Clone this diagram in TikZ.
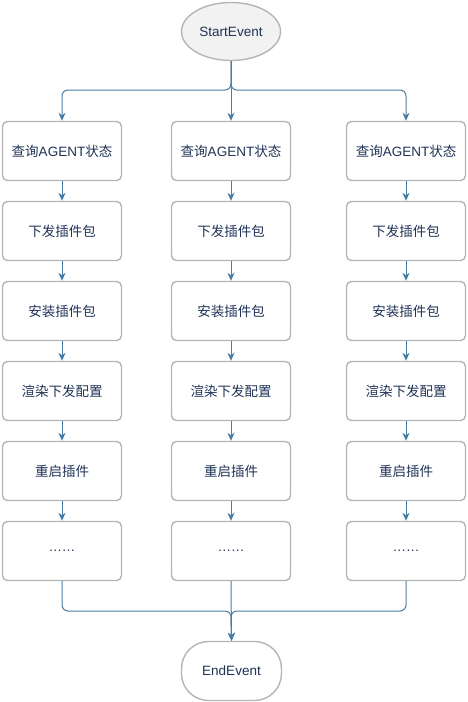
\documentclass[tikz,border=0pt]{standalone}
\usepackage{fontspec}
\setmainfont{Liberation Sans}
\newfontfamily\cjk{Noto Sans CJK SC}
\usepackage{tikz}
\usetikzlibrary{arrows.meta,shapes.geometric}
\definecolor{flowblue}{HTML}{4A7DA3}
\definecolor{boxgray}{HTML}{B5B5B5}
\definecolor{textnavy}{HTML}{1F3356}
\definecolor{startfill}{HTML}{F2F2F2}
\tikzset{
	task/.style={draw=boxgray, line width=1.4pt, fill=white, rounded corners=5pt,
		minimum width=119pt, minimum height=59pt, inner sep=0pt, text=textnavy,
		font=\fontsize{13.5}{16}\selectfont},
	startev/.style={ellipse, draw=boxgray, line width=1.4pt, fill=startfill,
		minimum width=99pt, minimum height=58pt, inner sep=0pt, text=textnavy,
		font=\fontsize{13.5}{16}\selectfont},
	endev/.style={draw=boxgray, line width=1.4pt, fill=white, rounded corners=27pt,
		minimum width=100pt, minimum height=59pt, inner sep=0pt, text=textnavy,
		font=\fontsize{13.5}{16}\selectfont},
	flow/.style={draw=flowblue, line width=1pt, rounded corners=6pt,
		-{Stealth[length=8pt,width=7pt,inset=2.5pt]}}
}

\begin{document}
\begin{tikzpicture}[x=1pt, y=-1pt]
		%%%%% START %%%%%
		\useasboundingbox (0, 0) rectangle (467, 702);
		
		\node[startev] (start) at (231, 31.5) {StartEvent};
		\node[endev] (end) at (231.5, 671) {EndEvent};
		
		% left column
		\node[task] (query1) at (62, 151) {{\cjk 查询}AGENT{\cjk 状态}};
		\node[task] (push1) at (62, 231) {\cjk 下发插件包};
		\node[task] (install1) at (62, 311) {\cjk 安装插件包};
		\node[task] (render1) at (62, 391) {\cjk 渲染下发配置};
		\node[task] (restart1) at (62, 471) {\cjk 重启插件};
		\node[task] (more1) at (62, 551) {……};
		
		% middle column
		\node[task] (query2) at (231, 151) {{\cjk 查询}AGENT{\cjk 状态}};
		\node[task] (push2) at (231, 231) {\cjk 下发插件包};
		\node[task] (install2) at (231, 311) {\cjk 安装插件包};
		\node[task] (render2) at (231, 391) {\cjk 渲染下发配置};
		\node[task] (restart2) at (231, 471) {\cjk 重启插件};
		\node[task] (more2) at (231, 551) {……};
		
		% right column
		\node[task] (query3) at (406, 151) {{\cjk 查询}AGENT{\cjk 状态}};
		\node[task] (push3) at (406, 231) {\cjk 下发插件包};
		\node[task] (install3) at (406, 311) {\cjk 安装插件包};
		\node[task] (render3) at (406, 391) {\cjk 渲染下发配置};
		\node[task] (restart3) at (406, 471) {\cjk 重启插件};
		\node[task] (more3) at (406, 551) {……};
		
		% split and join
		\coordinate (split) at (231, 90);
		\coordinate (join) at (231, 611);
		
		\draw[flow] (start.south) -- (split) -| (query1.north);
		\draw[flow] (start.south) -- (query2.north);
		\draw[flow] (start.south) -- (split) -| (query3.north);
		
		\draw[flow] (query1) -- (push1);
		\draw[flow] (push1) -- (install1);
		\draw[flow] (install1) -- (render1);
		\draw[flow] (render1) -- (restart1);
		\draw[flow] (restart1) -- (more1);
		
		\draw[flow] (query2) -- (push2);
		\draw[flow] (push2) -- (install2);
		\draw[flow] (install2) -- (render2);
		\draw[flow] (render2) -- (restart2);
		\draw[flow] (restart2) -- (more2);
		
		\draw[flow] (query3) -- (push3);
		\draw[flow] (push3) -- (install3);
		\draw[flow] (install3) -- (render3);
		\draw[flow] (render3) -- (restart3);
		\draw[flow] (restart3) -- (more3);
		
		\draw[flow] (more1.south) |- (join) -- (end.north);
		\draw[flow] (more2.south) -- (end.north);
		\draw[flow] (more3.south) |- (join) -- (end.north);
		
		%%%%% END %%%%%
\end{tikzpicture}
\end{document}
